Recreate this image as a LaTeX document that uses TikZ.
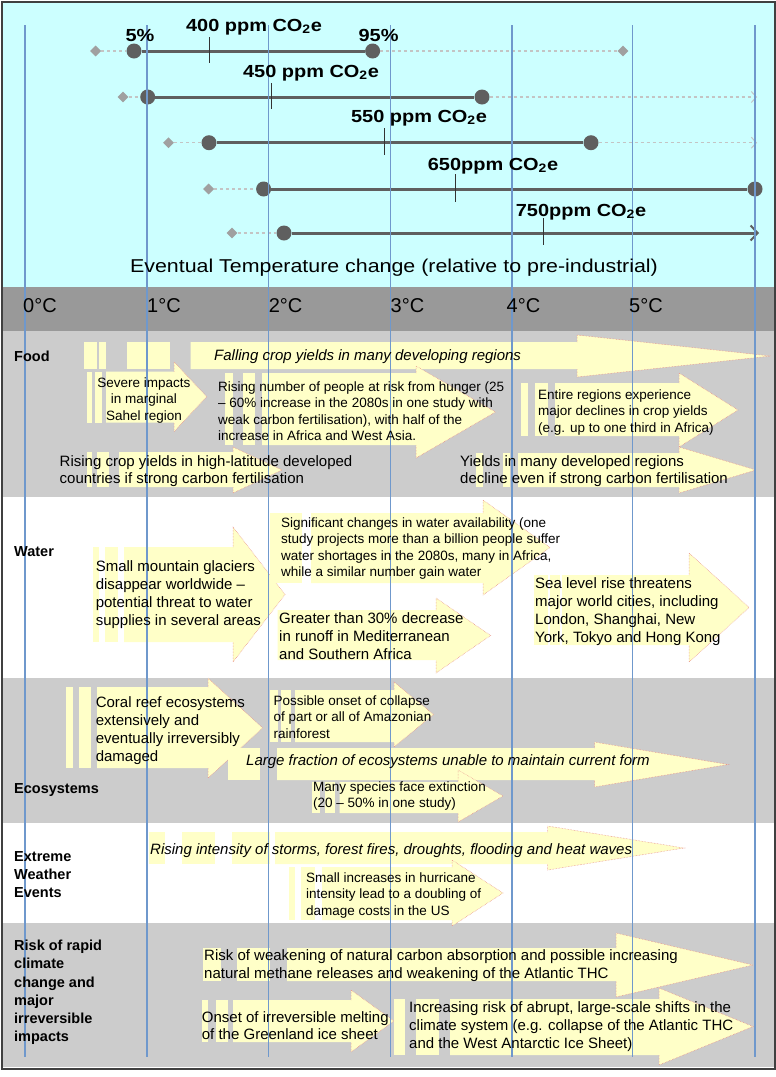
\documentclass[tikz,border=0pt]{standalone}
\usepackage{fontspec}
\setmainfont{Liberation Sans}
\usetikzlibrary{arrows.meta,shapes.geometric}
\definecolor{cyanbg}{HTML}{CCFFFF}
\definecolor{hdrgray}{HTML}{999999}
\definecolor{secgray}{HTML}{CCCCCC}
\definecolor{arryel}{HTML}{FFFFC8}
\definecolor{arredge}{HTML}{E06060}
\definecolor{tline}{HTML}{6F98CC}
\definecolor{barcol}{HTML}{5F5F5F}
\definecolor{dashg}{HTML}{C4C4C4}
\definecolor{diacol}{HTML}{A0A0A0}
\tikzset{
  arrfill/.style={fill=arryel},
  arrline/.style={draw=arredge!80, line width=0.5pt, densely dotted},
  templine/.style={draw=tline, line width=1.3pt},
  dot/.style={circle, fill=barcol, minimum size=15pt, inner sep=0pt},
  dia/.style={diamond, fill=diacol, minimum size=11pt, inner sep=0pt},
  dashline/.style={draw=dashg, line width=1.5pt, dashed},
  barline/.style={draw=barcol, line width=3pt},
  ticks/.style={draw=black!80, line width=0.9pt},
  colab/.style={font=\bfseries\fontsize{17.5}{20}\selectfont, inner sep=0pt},
  smalltxt/.style={font=\fontsize{13.5}{16.4}\selectfont, inner sep=0pt, align=left, anchor=north west},
  bigtxt/.style={font=\fontsize{15}{18}\selectfont, inner sep=0pt, align=left, anchor=north west},
  itxt/.style={font=\itshape\fontsize{15}{18}\selectfont, inner sep=0pt, anchor=west},
  rowlab/.style={font=\bfseries\fontsize{14.5}{18.2}\selectfont, inner sep=0pt, align=left, anchor=north west},
  templab/.style={font=\fontsize{20}{24}\selectfont, inner sep=0pt, anchor=west},
}
% #1 body left, #2 body top, #3 body bottom, #4 head x, #5 head top, #6 head bottom, #7 tip x
\newcommand\yarrow[7]{%
  \fill[arrfill] (#1,#2) -- (#4,#2) -- (#4,#5) -- (#7,{(#5+#6)/2}) -- (#4,#6) -- (#4,#3) -- (#1,#3) -- cycle;
  \draw[arrline] (#4,#2) -- (#4,#5) -- (#7,{(#5+#6)/2}) -- (#4,#6) -- (#4,#3);}
\newcommand\ystripe[4]{\fill[arrfill] (#1,#3) rectangle (#2,#4);}
\newcommand\wide[1]{\scalebox{1.14}[1]{#1}}
\begin{document}
\begin{tikzpicture}[x=1pt,y=-1pt]
\useasboundingbox (0,0) rectangle (776,1077);
\fill[white] (0,0) rectangle (776,1077);
% bands
\fill[cyanbg] (2,2) rectangle (774,287);
\fill[hdrgray] (2,287) rectangle (774,331);
\fill[secgray] (2,331) rectangle (774,497);
\fill[white] (2,497) rectangle (774,678);
\fill[secgray] (2,678) rectangle (774,823);
\fill[white] (2,823) rectangle (774,923);
\fill[secgray] (2,923) rectangle (774,1067);
\draw[line width=2pt, draw=black!75] (1.5,1.5) rectangle (774.5,1068.5);

% ---- concentration rows ----
% row 1
\node[dia] (r1d) at (95.6,51) {};
\node[dia] (r1e) at (623,51) {};
\node[dot] (r1a) at (134,51) {};
\node[dot] (r1b) at (372.6,51) {};
\draw[dashline] (r1d) -- (r1a);
\draw[dashline] (r1b) -- (r1e);
\draw[barline] (r1a) -- (r1b);
\draw[ticks] (209.6,37) -- (209.6,63);
% row 2
\node[dia] (r2d) at (123,97) {};
\node[dot] (r2a) at (147.7,97) {};
\node[dot] (r2b) at (482,97) {};
\coordinate (r2e) at (757,97);
\draw[dashline] (r2d) -- (r2a);
\draw[dashline, -{Straight Barb[length=5pt,width=11pt,line width=1pt]}] (r2b) -- (r2e);
\draw[barline] (r2a) -- (r2b);
\draw[ticks] (271,83) -- (271,109);
% row 3
\node[dia] (r3d) at (168.5,142.7) {};
\node[dot] (r3a) at (209,142.7) {};
\node[dot] (r3b) at (591,142.7) {};
\coordinate (r3e) at (757,142.7);
\draw[dashline] (r3d) -- (r3a);
\draw[dashline, -{Straight Barb[length=5pt,width=11pt,line width=1pt]}] (r3b) -- (r3e);
\draw[barline] (r3a) -- (r3b);
\draw[ticks] (384.5,128) -- (384.5,155);
% row 4
\node[dia] (r4d) at (208.6,189) {};
\node[dot] (r4a) at (263.6,189) {};
\node[dot] (r4b) at (755,189) {};
\draw[dashline] (r4d) -- (r4a);
\draw[barline] (r4a) -- (r4b);
\draw[ticks] (455,174) -- (455,202);
% row 5
\node[dia] (r5d) at (232,233) {};
\node[dot] (r5a) at (284,233) {};
\coordinate (r5e) at (759,233);
\draw[dashline] (r5d) -- (r5a);
\draw[barline, -{Straight Barb[length=7pt,width=15pt,line width=2pt]}] (r5a) -- (r5e);
\draw[ticks] (543.6,218) -- (543.6,245);

% ---- impact arrows ----
% Food
\ystripe{84}{96.7}{342}{369}\ystripe{99}{105.7}{342}{369}\ystripe{126.7}{170}{342}{369}
\yarrow{190.7}{342}{369}{577}{335}{377}{770.6}
\ystripe{87}{92}{371.7}{422.7}\ystripe{95}{101.7}{371.7}{422.7}
\yarrow{106}{371.7}{422.7}{174}{361.7}{431.7}{206.7}
\ystripe{225}{233}{373}{445}\ystripe{243}{255}{373}{445}
\yarrow{262}{373}{445}{416}{366}{458}{495.5}
\ystripe{521}{528}{383}{436}\ystripe{535}{548}{383}{436}
\yarrow{555}{383}{436}{679}{373}{447}{738}
\ystripe{87}{92}{452}{487}\ystripe{97}{109}{452}{487}
\yarrow{119}{452}{487}{233}{447}{493}{282}
\ystripe{476}{483}{453}{487}\ystripe{503}{510}{453}{487}
\yarrow{518}{453}{487}{679}{447}{493}{756}
% Water
\ystripe{93}{99}{547}{642}\ystripe{105}{118}{547}{642}
\yarrow{124}{547}{642}{233}{527}{662}{285}
\ystripe{270}{302}{513}{583}
\yarrow{311}{513}{583}{483}{500}{595}{550}
\yarrow{277.5}{610}{660}{436}{598}{673}{490.6}
\ystripe{534}{547.6}{575}{645}\ystripe{550}{560}{575}{645}
\yarrow{562}{575}{645}{689}{553}{662}{749}
% Ecosystems
\ystripe{66}{73}{687}{768}\ystripe{79}{91}{687}{768}
\yarrow{97}{687}{768}{208}{678}{778}{262.6}
\ystripe{270}{277.5}{690}{742}\ystripe{281}{291}{690}{742}
\yarrow{295}{690}{742}{394}{682}{747}{433.6}
\ystripe{228}{260}{748}{780}
\yarrow{277}{748}{780}{594.6}{742}{787}{728}
\ystripe{312}{320}{782}{813}\ystripe{324.6}{334.5}{782}{813}
\yarrow{339.5}{782}{813}{458}{770}{822}{503}
% Extreme weather
\ystripe{149}{165}{832}{864}\ystripe{182}{214.6}{832}{864}\ystripe{232}{270}{832}{864}
\yarrow{275}{832}{864}{547.6}{826}{870}{684}
\ystripe{289}{295}{867}{920}\ystripe{301}{315}{867}{920}
\yarrow{322}{867}{920}{452}{860}{926}{503}
% Risk
\ystripe{203}{220.5}{948}{981}\ystripe{237}{270}{948}{981}
\yarrow{287}{948}{981}{616}{933}{997}{753}
\ystripe{202}{208}{1000}{1042}\ystripe{215.6}{228}{1000}{1042}
\yarrow{233}{1000}{1042}{351}{990}{1052}{394}
\ystripe{394}{405}{999}{1055}\ystripe{416}{438.6}{999}{1055}
\yarrow{450}{999}{1055}{659}{988}{1065}{753}

% ---- temperature grid ----
\foreach \xx in {25,147,268.6,390.5,512,632.5,755}
  \draw[templine] (\xx,25) -- (\xx,1057);
\node[templab] (c0) at (23,306) {0°C};
\node[templab] (c1) at (147,306) {1°C};
\node[templab] (c2) at (268.6,306) {2°C};
\node[templab] (c3) at (390.5,306) {3°C};
\node[templab] (c4) at (506.5,306) {4°C};
\node[templab] (c5) at (629,306) {5°C};

% ---- top labels ----
\node[colab] (l400) at (254,27) {\wide{400 ppm CO\textsubscript{2}e}};
\node[colab] (p5) at (140,35) {\wide{5\%}};
\node[colab] (p95) at (378.6,35) {\wide{95\%}};
\node[colab] (l450) at (311,73) {\wide{450 ppm CO\textsubscript{2}e}};
\node[colab] (l550) at (419,118) {\wide{550 ppm CO\textsubscript{2}e}};
\node[colab] (l650) at (493,166) {\wide{650ppm CO\textsubscript{2}e}};
\node[colab] (l750) at (581,212) {\wide{750ppm CO\textsubscript{2}e}};
\node[font=\fontsize{18.6}{22}\selectfont, inner sep=0pt] (evt) at (394,268) {\scalebox{1.15}[1]{Eventual Temperature change (relative to pre-industrial)}};

% ---- row labels ----
\node[rowlab, anchor=west] (food) at (14,356) {Food};
\node[rowlab, anchor=west] (water) at (14,552) {Water};
\node[rowlab, anchor=west] (eco) at (14,790) {Ecosystems};
\node[rowlab] (ext) at (14,851) {Extreme\\Weather\\Events};
\node[rowlab] (risk) at (14,940) {Risk of rapid\\climate\\change and\\major\\irreversible\\impacts};

% ---- texts ----
\node[itxt] (fa) at (214,357) {Falling crop yields in many developing regions};
\node[smalltxt, anchor=north, align=center] (fb) at (144,377.6) {Severe impacts\\in marginal\\Sahel region};
\node[smalltxt] (fc) at (218,381.6) {Rising number of people at risk from hunger (25\\– 60\% increase in the 2080s in one study with\\weak carbon fertilisation), with half of the\\increase in Africa and West Asia.};
\node[smalltxt] (fd) at (538,389.6) {Entire regions experience\\major declines in crop yields\\(e.g. up to one third in Africa)};
\node[bigtxt, font=\fontsize{15}{17}\selectfont] (fe) at (59.5,455) {Rising crop yields in high-latitude developed\\countries if strong carbon fertilisation};
\node[bigtxt, font=\fontsize{15}{17.5}\selectfont] (ff) at (460,455) {Yields in many developed regions\\decline even if strong carbon fertilisation};

\node[bigtxt] (wa) at (95.6,560) {Small mountain glaciers\\disappear worldwide –\\potential threat to water\\supplies in several areas};
\node[smalltxt] (wb) at (281,517.6) {Significant changes in water availability (one\\study projects more than a billion people suffer\\water shortages in the 2080s, many in Africa,\\while a similar number gain water};
\node[bigtxt] (wc) at (279,612) {Greater than 30\% decrease\\in runoff in Mediterranean\\and Southern Africa};
\node[bigtxt, font=\fontsize{15}{18.3}\selectfont] (wd) at (535,577) {Sea level rise threatens\\major world cities, including\\London, Shanghai, New\\York, Tokyo and Hong Kong};

\node[bigtxt, font=\fontsize{15}{18.3}\selectfont] (ea) at (95.6,696) {Coral reef ecosystems\\extensively and\\eventually irreversibly\\damaged};
\node[smalltxt] (eb) at (273.5,695.6) {Possible onset of collapse\\of part or all of Amazonian\\rainforest};
\node[itxt] (ec) at (246,762) {Large fraction of ecosystems unable to maintain current form};
\node[smalltxt] (ed) at (313,781.6) {Many species face extinction\\(20 – 50\% in one study)};

\node[itxt] (xa) at (150,851) {Rising intensity of storms, forest fires, droughts, flooding and heat waves};
\node[smalltxt] (xb) at (306,872.6) {Small increases in hurricane\\intensity lead to a doubling of\\damage costs in the US};

\node[bigtxt] (ra) at (204,949) {Risk of weakening of natural carbon absorption and possible increasing\\natural methane releases and weakening of the Atlantic THC};
\node[bigtxt, font=\fontsize{15}{17}\selectfont] (rb) at (201.7,1011) {Onset of irreversible melting\\of the Greenland ice sheet};
\node[bigtxt] (rc) at (409,1001) {Increasing risk of abrupt, large-scale shifts in the\\climate system (e.g. collapse of the Atlantic THC\\and the West Antarctic Ice Sheet)};
\end{tikzpicture}
\end{document}
